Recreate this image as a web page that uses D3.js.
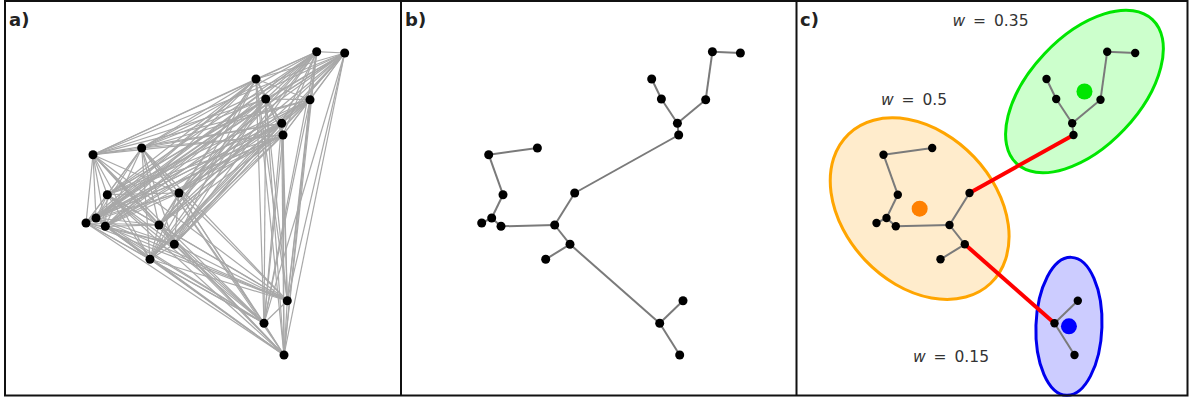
<!DOCTYPE html>
<html><head><meta charset="utf-8">
<script src="https://cdn.jsdelivr.net/npm/d3@7"></script>
<style>html,body{margin:0;padding:0;background:#fff;}svg{display:block;}</style>
</head><body>
<svg id="chart" width="1189" height="403"></svg>
<script>
// ---- data (point coordinates in a shared data space) ----
const nodeX = [316.7, 344.7, 256.0, 265.7, 310.0, 281.7, 283.0, 93.0, 141.7, 107.3, 179.0, 96.0, 86.0, 105.3, 159.0, 174.3, 150.0, 287.3, 264.0, 284.0];
const nodeY = [51.7, 53.0, 79.0, 99.0, 99.7, 123.3, 135.0, 154.7, 148.0, 194.7, 193.0, 218.0, 223.0, 226.3, 225.0, 244.3, 259.3, 300.7, 323.3, 355.0];
const clusterOf = [0, 0, 0, 0, 0, 0, 0, 1, 1, 1, 1, 1, 1, 1, 1, 1, 1, 2, 2, 2];
// minimum spanning tree edges (node index pairs)
const mstSource = [0, 0, 4, 2, 3, 5, 6, 10, 14, 13, 11, 11, 9, 7, 14, 15, 15, 18, 18];
const mstTarget = [1, 4, 5, 3, 5, 6, 10, 14, 13, 11, 12, 9, 7, 8, 15, 16, 18, 17, 19];
// edges cut to form clusters
const cutEdges = [[6, 10], [15, 18]];
// cluster (mixture component) parameters
const clusterNames = ["green", "orange", "blue"];
const clusterWeights = [0.35, 0.5, 0.15];
const clusterRx = [99, 103, 33];
const clusterRy = [55, 75, 69];
const clusterAngle = [-46.6, 46.4, 2];
const weightLabelX = [200, 123.5, 160.5];
const weightLabelY = [20, 99, 356];
const panelLabels = ["a)", "b)", "c)"];

// ---- layout ----
const svg = d3.select("#chart");
const panelOffsets = [0, 395.7, 790.5];
const strokeCol = ["#00e600", "#ffa500", "#0000ee"];
const fillCol = ["#ccffcc", "#ffeccc", "#ccccff"];
const centCol = ["#00e600", "#ff8000", "#0000ff"];

function scalesFor(p) {
  const x = d3.scaleLinear().domain([0, 400]).range([panelOffsets[p], panelOffsets[p] + 400]);
  const y = d3.scaleLinear().domain([0, 400]).range([0, 400]);
  return {x, y};
}
const nodes = nodeX.map((x, i) => ({x, y: nodeY[i], c: clusterOf[i]}));

// panel a: complete graph
{
  const {x, y} = scalesFor(0);
  const g = svg.append("g");
  const pairs = [];
  for (let i = 0; i < nodes.length; i++) for (let j = i + 1; j < nodes.length; j++) pairs.push([i, j]);
  g.selectAll("line").data(pairs).join("line")
    .attr("x1", d => x(nodes[d[0]].x)).attr("y1", d => y(nodes[d[0]].y))
    .attr("x2", d => x(nodes[d[1]].x)).attr("y2", d => y(nodes[d[1]].y))
    .attr("stroke", "#a8a8a8").attr("stroke-width", 1.2);
  g.selectAll("circle").data(nodes).join("circle")
    .attr("cx", d => x(d.x)).attr("cy", d => y(d.y)).attr("r", 4.5).attr("fill", "#000");
}

const mst = mstSource.map((s, i) => [s, mstTarget[i]]);
const isCut = e => cutEdges.some(c => (c[0] === e[0] && c[1] === e[1]) || (c[0] === e[1] && c[1] === e[0]));

// panel b: MST
{
  const {x, y} = scalesFor(1);
  const g = svg.append("g");
  g.selectAll("line").data(mst).join("line")
    .attr("x1", d => x(nodes[d[0]].x)).attr("y1", d => y(nodes[d[0]].y))
    .attr("x2", d => x(nodes[d[1]].x)).attr("y2", d => y(nodes[d[1]].y))
    .attr("stroke", "#7a7a7a").attr("stroke-width", 2);
  g.selectAll("circle").data(nodes).join("circle")
    .attr("cx", d => x(d.x)).attr("cy", d => y(d.y)).attr("r", 4.5).attr("fill", "#000");
}

// panel c: clusters
{
  const {x, y} = scalesFor(2);
  const g = svg.append("g");
  const cl = clusterNames.map((n, k) => {
    const members = nodes.filter(d => d.c === k);
    return {k, cx: d3.mean(members, d => d.x), cy: d3.mean(members, d => d.y)};
  });
  g.selectAll("ellipse").data(cl).join("ellipse")
    .attr("cx", 0).attr("cy", 0)
    .attr("rx", d => x(clusterRx[d.k]) - x(0)).attr("ry", d => y(clusterRy[d.k]) - y(0))
    .attr("transform", d => `translate(${x(d.cx)},${y(d.cy)}) rotate(${clusterAngle[d.k]})`)
    .attr("fill", d => fillCol[d.k]).attr("stroke", d => strokeCol[d.k]).attr("stroke-width", 3);
  g.selectAll("circle.cent").data(cl).join("circle").attr("class", "cent")
    .attr("cx", d => x(d.cx)).attr("cy", d => y(d.cy)).attr("r", 8).attr("fill", d => centCol[d.k]);
  g.selectAll("line").data(mst).join("line")
    .attr("x1", d => x(nodes[d[0]].x)).attr("y1", d => y(nodes[d[0]].y))
    .attr("x2", d => x(nodes[d[1]].x)).attr("y2", d => y(nodes[d[1]].y))
    .attr("stroke", d => isCut(d) ? "#ff0000" : "#7a7a7a").attr("stroke-width", d => isCut(d) ? 4 : 2);
  g.selectAll("circle.node").data(nodes).join("circle").attr("class", "node")
    .attr("cx", d => x(d.x)).attr("cy", d => y(d.y)).attr("r", 4.2).attr("fill", "#000");
  const t = g.selectAll("text").data(cl).join("text")
    .attr("x", d => x(weightLabelX[d.k])).attr("y", d => y(weightLabelY[d.k]) + 5.5)
    .attr("text-anchor", "middle").attr("font-family", "'DejaVu Sans', sans-serif").attr("font-size", 15.5)
    .attr("word-spacing", 3).attr("fill", "#333");
  t.append("tspan").attr("font-style", "italic").text("w");
  t.append("tspan").text(d => " = " + clusterWeights[d.k]);
}

// frames and labels
const frame = svg.append("g").attr("stroke", "#111").attr("stroke-width", 2).attr("fill", "none");
frame.append("rect").attr("x", 5).attr("y", 1).attr("width", 1182.5).attr("height", 394.5);
frame.append("line").attr("x1", 401).attr("x2", 401).attr("y1", 1).attr("y2", 395.5);
frame.append("line").attr("x1", 796.5).attr("x2", 796.5).attr("y1", 1).attr("y2", 395.5);
svg.selectAll("text.plabel").data(panelLabels).join("text").attr("class", "plabel")
  .attr("x", (d, i) => [9, 405, 800][i]).attr("y", 26)
  .attr("font-family", "'DejaVu Sans', sans-serif").attr("font-weight", "bold").attr("font-size", 18).attr("fill", "#222")
  .text(d => d);
</script>
</body></html>
